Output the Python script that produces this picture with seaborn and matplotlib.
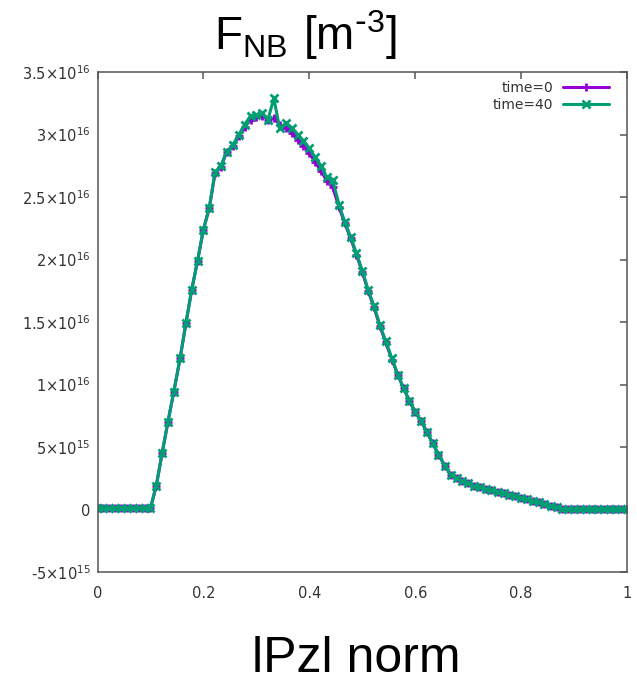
import numpy as np
import pandas as pd
import matplotlib
matplotlib.use("Agg")
import matplotlib.pyplot as plt
import seaborn as sns

# ---- data (values in units of 1e15 m^-3) ----
scale = 1e15
x_vals = [0.000, 0.011, 0.022, 0.033, 0.044, 0.056, 0.067, 0.078, 0.089, 0.100,
          0.111, 0.122, 0.133, 0.144, 0.156, 0.167, 0.178, 0.189, 0.200, 0.211,
          0.222, 0.233, 0.244, 0.256, 0.267, 0.278, 0.289, 0.300, 0.311, 0.322,
          0.333, 0.344, 0.356, 0.367, 0.378, 0.389, 0.400, 0.411, 0.422, 0.433,
          0.444, 0.456, 0.467, 0.478, 0.489, 0.500, 0.511, 0.522, 0.533, 0.544,
          0.556, 0.567, 0.578, 0.589, 0.600, 0.611, 0.622, 0.633, 0.644, 0.656,
          0.667, 0.678, 0.689, 0.700, 0.711, 0.722, 0.733, 0.744, 0.756, 0.767,
          0.778, 0.789, 0.800, 0.811, 0.822, 0.833, 0.844, 0.856, 0.867, 0.878,
          0.889, 0.900, 0.911, 0.922, 0.933, 0.944, 0.956, 0.967, 0.978, 0.989,
          1.000]

time0 = [0.1, 0.1, 0.1, 0.1, 0.1, 0.1, 0.1, 0.1, 0.1, 0.1,
         1.9, 4.5, 7.0, 9.4, 12.1, 14.9, 17.6, 19.9, 22.4, 24.1,
         26.9, 27.4, 28.6, 29.1, 29.9, 30.6, 31.2, 31.4, 31.5, 31.2,
         31.3, 30.8, 30.5, 30.1, 29.6, 29.1, 28.5, 27.8, 27.1, 26.3,
         25.8, 24.2, 22.9, 21.7, 20.4, 19.0, 17.5, 16.2, 14.7, 13.4,
         12.0, 10.8, 9.7, 8.7, 7.8, 7.1, 6.2, 5.3, 4.4, 3.5,
         2.8, 2.5, 2.3, 2.1, 1.9, 1.8, 1.65, 1.55, 1.4, 1.3,
         1.2, 1.05, 0.95, 0.83, 0.7, 0.58, 0.45, 0.32, 0.18, 0.06,
         0.03, 0.03, 0.03, 0.03, 0.03, 0.03, 0.03, 0.03, 0.03, 0.03,
         0.03]

time40 = [0.1, 0.1, 0.1, 0.1, 0.1, 0.1, 0.1, 0.1, 0.1, 0.1,
          1.9, 4.5, 7.0, 9.4, 12.1, 14.9, 17.6, 19.9, 22.4, 24.1,
          27.0, 27.5, 28.6, 29.2, 30.0, 30.8, 31.5, 31.6, 31.7, 31.2,
          32.9, 30.5, 30.9, 30.5, 30.0, 29.5, 28.9, 28.2, 27.5, 26.6,
          26.4, 24.4, 23.0, 21.8, 20.5, 19.1, 17.6, 16.3, 14.8, 13.5,
          12.1, 10.8, 9.7, 8.7, 7.8, 7.1, 6.2, 5.3, 4.4, 3.5,
          2.8, 2.5, 2.3, 2.1, 1.9, 1.8, 1.65, 1.55, 1.4, 1.3,
          1.2, 1.05, 0.95, 0.83, 0.7, 0.58, 0.45, 0.32, 0.18, 0.06,
          0.03, 0.03, 0.03, 0.03, 0.03, 0.03, 0.03, 0.03, 0.03, 0.03,
          0.03]

series_names = ["time=0", "time=40"]
series_colors = ["#9400D3", "#009E73"]
series_markers = ["+", "x"]

yticks = [-5e15, 0, 5e15, 1e16, 1.5e16, 2e16, 2.5e16, 3e16, 3.5e16]
ytick_labels = [r"-$\mathregular{5{\times}10^{15}}$", r"0",
                r"$\mathregular{5{\times}10^{15}}$", r"$\mathregular{1{\times}10^{16}}$",
                r"$\mathregular{1.5{\times}10^{16}}$", r"$\mathregular{2{\times}10^{16}}$",
                r"$\mathregular{2.5{\times}10^{16}}$", r"$\mathregular{3{\times}10^{16}}$",
                r"$\mathregular{3.5{\times}10^{16}}$"]
xticks = [0, 0.2, 0.4, 0.6, 0.8, 1]
xtick_labels = ["0", "0.2", "0.4", "0.6", "0.8", "1"]

title_text = r"$\mathregular{F_{NB}\ [m^{\text{-}3}]}$"
xlabel_text = "lPzl norm"

# ---- figure ----
sns.set_style("white")
plt.rcParams["font.family"] = ["DejaVu Sans"]
plt.rcParams["mathtext.fontset"] = "dejavusans"

fig = plt.figure(figsize=(6.37, 6.83), dpi=100)
ax = fig.add_axes([97.5 / 637, 1 - 572 / 683, (627 - 97.5) / 637, (572 - 72) / 683])

df = pd.DataFrame({
    "x": x_vals * 2,
    "y": [v * scale for v in time0] + [v * scale for v in time40],
    "series": [series_names[0]] * len(time0) + [series_names[1]] * len(time40),
})

for name, col, mk in zip(series_names, series_colors, series_markers):
    sub = df[df["series"] == name]
    sns.lineplot(data=sub, x="x", y="y", ax=ax, color=col, marker=mk,
                 markersize=6.3, markeredgewidth=2.0, markeredgecolor=col,
                 markerfacecolor=col, linewidth=2.2,
                 label=name, sort=False, estimator=None)

ax.set_xlim(0, 1)
ax.set_ylim(-5e15, 3.5e16)
ax.set_xticks(xticks)
ax.set_xticklabels(xtick_labels)
ax.set_yticks(yticks)
ax.set_yticklabels(ytick_labels)
ax.set_xlabel("")
ax.set_ylabel("")

for sp in ax.spines.values():
    sp.set_color("#555555")
    sp.set_linewidth(1.1)
    sp.set_visible(True)

ax.tick_params(axis="both", direction="in", length=5, width=1.1, color="#555555",
               top=True, right=True, labelsize=10.5, labelcolor="#333333")
ax.tick_params(axis="x", pad=10)
ax.tick_params(axis="y", pad=5)

leg = ax.legend(loc="upper right", bbox_to_anchor=(0.966, 0.982), frameon=False,
                markerfirst=False, fontsize=10, borderaxespad=0, borderpad=0,
                handlelength=3.3, handletextpad=0.7, labelspacing=0.2, numpoints=1)
for t in leg.get_texts():
    t.set_color("#333333")

fig.text(305 / 637, 1 - 50 / 683, title_text, fontsize=33, ha="center",
         va="baseline", family="Liberation Sans", color="black")
fig.text(356 / 637, 1 - 672 / 683, xlabel_text, fontsize=36, ha="center",
         va="baseline", family="Liberation Sans", color="black")

fig.savefig("out.png", dpi=100, facecolor="white")
